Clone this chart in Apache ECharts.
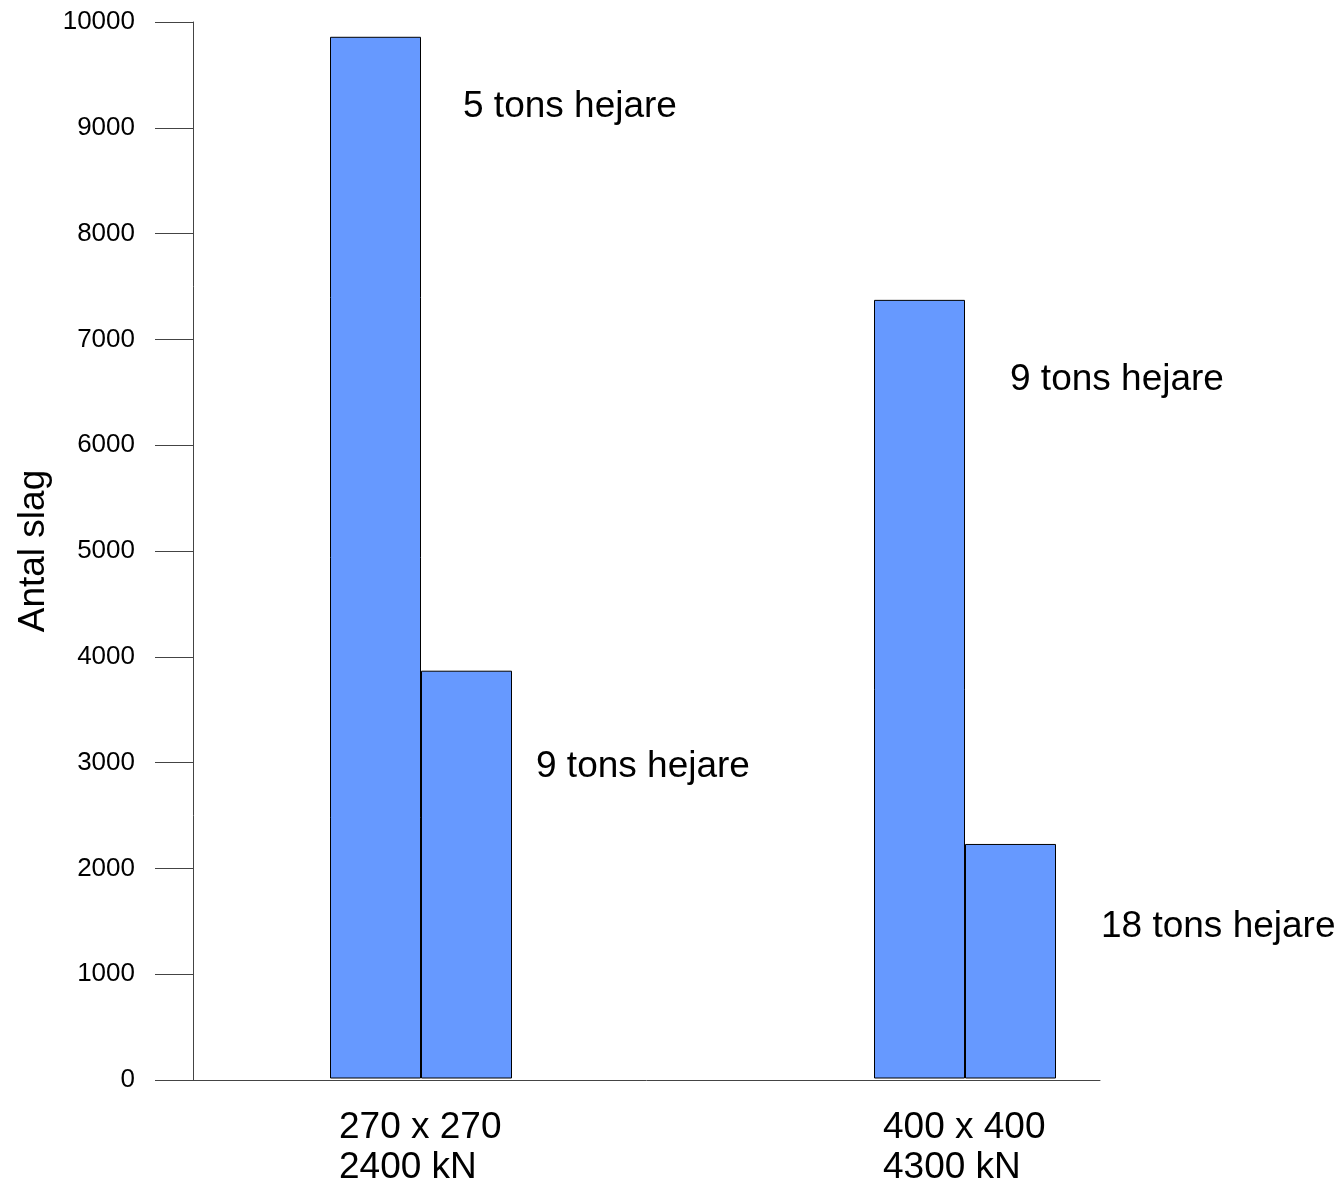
<!DOCTYPE html>
<html>
<head>
<meta charset="utf-8">
<script src="https://cdn.jsdelivr.net/npm/echarts@6/dist/echarts.min.js"></script>
<style>html,body{margin:0;padding:0;background:#fff}#c{width:1341px;height:1186px}</style>
</head>
<body>
<div id="c"></div>
<script>
// ---- data ----
const categories = ['270 x 270\n2400 kN', '400 x 400\n4300 kN'];
const seriesFirst = [9860, 7370];   // first (lighter hammer) bar per group
const seriesSecond = [3860, 2220];  // second (heavier hammer) bar per group
const labelsFirst = ['5 tons hejare', '9 tons hejare'];
const labelsSecond = ['9 tons hejare', '18 tons hejare'];
const yTicks = { min: 0, max: 10000, interval: 1000 };
const yTitle = 'Antal slag';

// ---- styling (label offsets relative to bar top-left) ----
const offFirst = [[133, 70], [136, 80]];
const offSecond = [[115, 96], [136, 83]];
const FONT = 'Liberation Sans, Arial, sans-serif';
const BAR = '#6699FF';

function mk(vals, labels, offs) {
  return vals.map((v, i) => ({
    value: v,
    label: {
      show: true, formatter: labels[i], position: offs[i],
      align: 'left', verticalAlign: 'middle',
      fontSize: 37, color: '#000', fontFamily: FONT
    }
  }));
}

const chart = echarts.init(document.getElementById('c'), null, { renderer: 'canvas' });
chart.setOption({
  animation: false,
  backgroundColor: '#fff',
  textStyle: { fontFamily: FONT },
  grid: [
    { left: 193, right: 241, top: 22, bottom: 106 },
    { left: 149, width: 1088, top: 22, bottom: 106 }
  ],
  xAxis: [
    { gridIndex: 0, type: 'value', min: 0, max: 1, show: true,
      axisLine: { show: true, lineStyle: { color: '#444', width: 1 } },
      axisTick: { show: false }, axisLabel: { show: false }, splitLine: { show: false } },
    { gridIndex: 1, type: 'category', data: categories,
      axisLine: { show: false }, axisTick: { show: false },
      axisLabel: {
        margin: 29, interval: 0,
        formatter: v => v.split('\n').map(s => '{a|' + s + '}').join('\n'),
        rich: { a: { width: 164, align: 'left', fontSize: 37, lineHeight: 40, color: '#000', fontFamily: FONT } }
      } }
  ],
  yAxis: [
    { gridIndex: 0, type: 'value', min: yTicks.min, max: yTicks.max, interval: yTicks.interval,
      name: yTitle, nameLocation: 'middle', nameGap: 135, nameRotate: 90,
      nameTextStyle: { fontSize: 37, color: '#000', fontFamily: FONT },
      axisLine: { show: true, lineStyle: { color: '#444', width: 1 } },
      axisTick: { show: true, length: 38, lineStyle: { color: '#444', width: 1 } },
      axisLabel: { margin: 58, fontSize: 26, color: '#000', fontFamily: FONT, formatter: v => String(v) },
      splitLine: { show: false } },
    { gridIndex: 1, type: 'value', min: yTicks.min, max: yTicks.max, interval: yTicks.interval, show: false,
      splitLine: { show: false } }
  ],
  series: [
    { type: 'bar', xAxisIndex: 1, yAxisIndex: 1, barWidth: 91, barGap: 0,
      itemStyle: { color: BAR, borderColor: '#000', borderWidth: 1 },
      data: mk(seriesFirst, labelsFirst, offFirst) },
    { type: 'bar', xAxisIndex: 1, yAxisIndex: 1, barWidth: 91, barGap: 0,
      itemStyle: { color: BAR, borderColor: '#000', borderWidth: 1 },
      data: mk(seriesSecond, labelsSecond, offSecond) }
  ]
});
</script>
</body>
</html>
